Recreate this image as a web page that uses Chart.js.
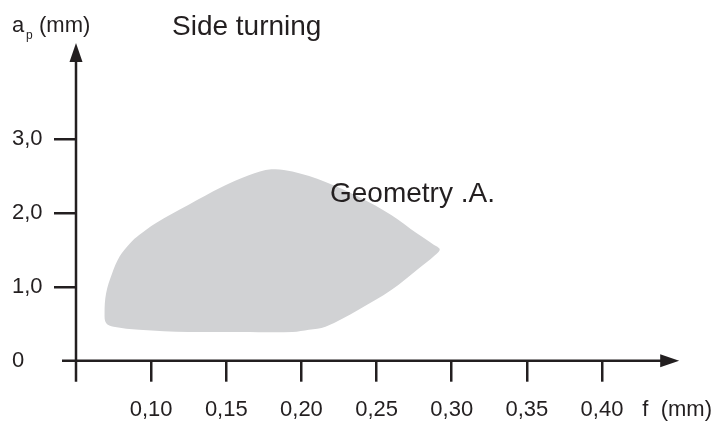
<!DOCTYPE html>
<html>
<head>
<meta charset="utf-8">
<script src="https://cdn.jsdelivr.net/npm/chart.js"></script>
<style>
    html, body { margin: 0; padding: 0; background: #fff; }
    #wrap { width: 727px; height: 423px; position: relative; }
</style>
</head>
<body>
<div id="wrap"><canvas id="myChart"></canvas></div>
<script>
// outline of the working area, going round from the middle of the bottom edge
// f (mm)
const areaF = [0.160, 0.125, 0.092, 0.075, 0.070, 0.069, 0.070, 0.074, 0.079, 0.086,
               0.092, 0.103, 0.125, 0.147, 0.165, 0.180, 0.194, 0.216, 0.238, 0.260,
               0.277, 0.288, 0.292, 0.289, 0.277, 0.260, 0.238, 0.216, 0.205, 0.194,
               0.160];
// ap (mm)
const areaAp = [0.39, 0.39, 0.42, 0.46, 0.51, 0.64, 0.91, 1.18, 1.41, 1.59,
                1.70, 1.86, 2.11, 2.35, 2.51, 2.59, 2.56, 2.42, 2.22, 1.97,
                1.72, 1.57, 1.51, 1.43, 1.23, 0.96, 0.69, 0.46, 0.42, 0.39,
                0.39];

const xTicks = [0.10, 0.15, 0.20, 0.25, 0.30, 0.35, 0.40, 0.45];
const xTickLabels = ['0,10', '0,15', '0,20', '0,25', '0,30', '0,35', '0,40', 'f  (mm)'];
const yTicks = [0, 1, 2, 3];
const yTickLabels = ['0', '1,0', '2,0', '3,0'];

const chartTitle = 'Side turning';
const yTitle = ['a', 'p', '(mm)'];
const areaLabel = 'Geometry .A.';
const areaLabelAt = {x: 0.219, y: 2.15};

const ink = '#231f20';
const fontFamily = '"Liberation Sans", Arial, Helvetica, sans-serif';

// axis lines with arrows + the free texts
const axesAndText = {
    id: 'axesAndText',
    afterDatasetsDraw(chart) {
        const {ctx, chartArea} = chart;
        const x = chart.scales.x, y = chart.scales.y;
        const x0 = x.getPixelForValue(0.05);
        const y0 = y.getPixelForValue(0);
        const xTip = chartArea.right + 2;
        const yTip = chartArea.top;
        ctx.save();
        ctx.strokeStyle = ink;
        ctx.fillStyle = ink;
        ctx.lineWidth = 2.5;
        ctx.beginPath();
        ctx.moveTo(x0 - 14, y0);
        ctx.lineTo(xTip - 10, y0);
        ctx.moveTo(x0, y0 + 21);
        ctx.lineTo(x0, yTip + 10);
        ctx.stroke();
        // arrow heads
        ctx.beginPath();
        ctx.moveTo(xTip, y0);
        ctx.lineTo(xTip - 19, y0 - 6.5);
        ctx.lineTo(xTip - 19, y0 + 6.5);
        ctx.closePath();
        ctx.fill();
        ctx.beginPath();
        ctx.moveTo(x0, yTip);
        ctx.lineTo(x0 - 6.5, yTip + 19);
        ctx.lineTo(x0 + 6.5, yTip + 19);
        ctx.closePath();
        ctx.fill();

        ctx.textBaseline = 'alphabetic';
        ctx.textAlign = 'left';
        ctx.font = '22px ' + fontFamily;
        ctx.fillText(yTitle[0], 12, 32);
        ctx.fillText(yTitle[2], 39, 32);
        ctx.font = '12px ' + fontFamily;
        ctx.fillText(yTitle[1], 26, 39);

        ctx.font = '28px ' + fontFamily;
        ctx.fillText(chartTitle, 172, 35);
        ctx.fillText(areaLabel, x.getPixelForValue(areaLabelAt.x), y.getPixelForValue(areaLabelAt.y));
        ctx.restore();
    }
};

const config = {
    type: 'scatter',
    data: {
        datasets: [{
            data: areaF.map((f, i) => ({x: f, y: areaAp[i]})),
            showLine: true,
            fill: 'shape',
            tension: 0.35,
            borderWidth: 0,
            borderColor: 'rgba(0,0,0,0)',
            backgroundColor: '#d1d2d4',
            pointRadius: 0
        }]
    },
    options: {
        responsive: true,
        maintainAspectRatio: false,
        animation: false,
        layout: {
            padding: {left: 12, top: 43, right: 45.7, bottom: 0}
        },
        scales: {
            x: {
                type: 'linear',
                min: 0.05,
                max: 0.45,
                afterBuildTicks: s => { s.ticks = xTicks.map(v => ({value: v})); },
                afterFit: s => { s.height = 62.3; },
                border: {display: false},
                grid: {
                    drawOnChartArea: false,
                    drawTicks: true,
                    tickLength: 21,
                    lineWidth: 2.5,
                    color: ink,
                    tickColor: c => (c.index === xTicks.length - 1 ? 'rgba(0,0,0,0)' : ink)
                },
                ticks: {
                    autoSkip: false,
                    maxRotation: 0,
                    padding: 15,
                    color: ink,
                    font: {size: 22, family: fontFamily},
                    callback: (v, i) => xTickLabels[i]
                }
            },
            y: {
                type: 'linear',
                min: 0,
                max: 4.3,
                afterBuildTicks: s => { s.ticks = yTicks.map(v => ({value: v})); },
                afterFit: s => { s.width = 64; },
                border: {display: false},
                grid: {
                    drawOnChartArea: false,
                    drawTicks: true,
                    tickLength: 22,
                    lineWidth: 2.5,
                    color: ink,
                    tickColor: c => (c.index === 0 ? 'rgba(0,0,0,0)' : ink)
                },
                ticks: {
                    crossAlign: 'far',
                    padding: 6,
                    color: ink,
                    font: {size: 22, family: fontFamily},
                    callback: (v, i) => yTickLabels[i]
                }
            }
        },
        plugins: {
            legend: {display: false},
            tooltip: {enabled: false}
        }
    },
    plugins: [axesAndText]
};

new Chart(document.getElementById('myChart'), config);
</script>
</body>
</html>
